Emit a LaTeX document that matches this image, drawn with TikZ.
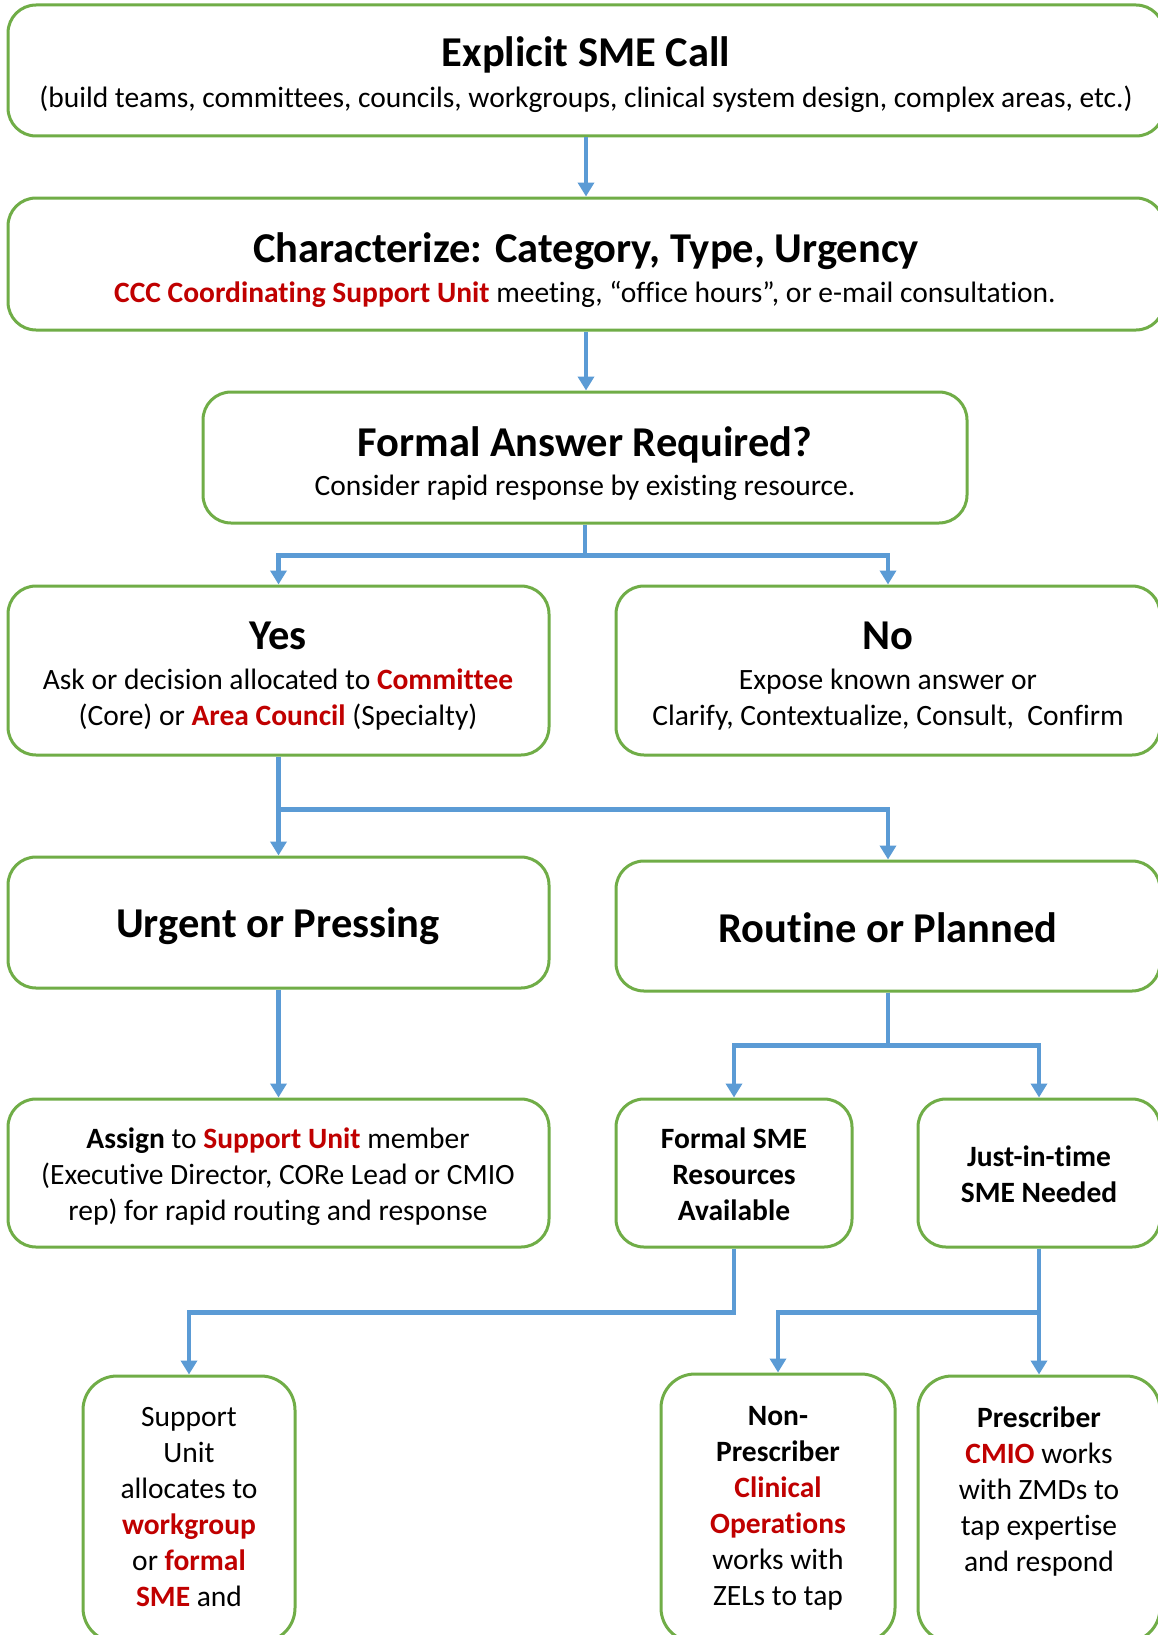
\documentclass[tikz,border=0pt]{standalone}
\usepackage{fontspec}
\setmainfont{Carlito}[Ligatures={TeX,NoCommon}]
\usetikzlibrary{arrows.meta}
\definecolor{boxgreen}{HTML}{70AD47}
\definecolor{arrblue}{HTML}{5B9BD5}
\definecolor{hired}{HTML}{C00000}
\newcommand{\hl}[1]{\textbf{\textcolor{hired}{#1}}}
\newcommand{\ml}[1]{\vtop{\baselineskip=36pt\lineskiplimit=-50pt\halign{\hfil##\hfil\cr#1\crcr}}}
\begin{document}
\begin{tikzpicture}[x=1pt,y=-1pt,
  box/.style={draw=boxgreen, line width=3pt, rounded corners=28pt, fill=white, inner sep=0pt},
  conn/.style={draw=arrblue, line width=4.5pt},
  arr/.style={conn, -{Triangle[width=16pt,length=14pt]}},
  ttl/.style={anchor=base, font=\fontsize{42.5}{50}\selectfont\bfseries, inner sep=0pt},
  txt/.style={anchor=base, font=\fontsize{29.5}{36}\selectfont, inner sep=0pt},
]
\useasboundingbox (0,0) rectangle (1158,1635);
\fill[white] (0,0) rectangle (1158,1635);
\clip (0,0) rectangle (1158,1635);

% boxes
\node[box, minimum width=1156pt, minimum height=131pt] (b1) at (586,70.5) {};
\node[box, minimum width=1156pt, minimum height=132pt] (b2) at (586,264) {};
\node[box, minimum width=764pt, minimum height=131pt] (b3) at (585,457.5) {};
\node[box, minimum width=541pt, minimum height=169pt] (yes) at (278.5,670.5) {};
\node[box, minimum width=544pt, minimum height=169pt] (no) at (888,670.5) {};
\node[box, minimum width=541pt, minimum height=131pt] (urg) at (278.5,922.5) {};
\node[box, minimum width=544pt, minimum height=130pt] (rout) at (888,926) {};
\node[box, minimum width=541pt, minimum height=148pt] (asg) at (278.5,1173) {};
\node[box, minimum width=236pt, minimum height=148pt] (fsme) at (734,1173) {};
\node[box, minimum width=242pt, minimum height=148pt] (jit) at (1039,1173) {};
\node[box, minimum width=212pt, minimum height=266pt, rounded corners=34pt] (sup) at (189,1509) {};
\node[box, minimum width=234pt, minimum height=268pt, rounded corners=34pt] (nonp) at (778,1508) {};
\node[box, minimum width=242pt, minimum height=266pt, rounded corners=34pt] (presc) at (1039,1509) {};

% connectors
\draw[arr] (b1.south) -- (b2.north);
\draw[arr] (b2.south) -- (b2.south |- b3.north);
\draw[arr] (b3.south) -- ++(0,31) -| (yes.north);
\draw[arr] (b3.south) -- ++(0,31) -| (no.north);
\draw[arr] (yes.south) -- (urg.north);
\draw[arr] (yes.south) -- ++(0,53) -| (rout.north);
\draw[arr] (urg.south) -- (asg.north);
\draw[arr] (rout.south) -- ++(0,53) -| (fsme.north);
\draw[arr] (rout.south) -- ++(0,53) -| (jit.north);
\draw[arr] (fsme.south) -- ++(0,64) -| (sup.north);
\draw[arr] (jit.south) -- (presc.north);
\draw[arr] (jit.south) -- ++(0,64) -| (nonp.north);

% texts
\node[ttl] (t1) at (586,66.7) {Explicit SME Call};
\node[txt] (s1) at (586,107.5) {(build teams, committees, councils, workgroups, clinical system design, complex areas, etc.)};
\node[ttl] (t2) at (586,262.5) {Characterize: Category, Type, Urgency};
\node[txt] (s2) at (585,302.5) {\hl{CCC Coordinating Support Unit} meeting, “office hours”, or e-mail consultation.};
\node[ttl] (t3) at (585,456.5) {Formal Answer Required?};
\node[txt] (s3) at (585,495.5) {Consider rapid response by existing resource.};
\node[ttl] (t4) at (278,649.5) {Yes};
\node[txt] (s4) at (278,689) {\ml{Ask or decision allocated to \hl{Committee}\cr (Core) or \hl{Area Council} (Specialty)}};
\node[ttl] (t5) at (888,649.5) {No};
\node[txt] (s5) at (888,689) {\ml{Expose known answer or\cr Clarify, Contextualize, Consult,\ \ Confirm}};
\node[ttl] (t6) at (278,937.5) {Urgent or Pressing};
\node[ttl] (t7) at (888,942) {Routine or Planned};
\node[txt] (s8) at (278,1148) {\ml{\textbf{Assign} to \hl{Support Unit} member\cr (Executive Director, CORe Lead or CMIO\cr rep) for rapid routing and response}};
\node[txt] (s9) at (734,1148) {\bfseries\ml{Formal SME\cr Resources\cr Available}};
\node[txt] (s10) at (1039,1166.5) {\bfseries\ml{Just-in-time\cr SME Needed}};
\node[txt] (s11) at (189,1426.5) {\ml{Support\cr Unit\cr allocates to\cr \hl{workgroup}\cr or \hl{formal}\cr \hl{SME} and}};
\node[txt] (s12) at (778,1425.5) {\ml{\textbf{Non-}\cr \textbf{Prescriber}\cr \hl{Clinical}\cr \hl{Operations}\cr works with\cr ZELs to tap}};
\node[txt] (s13) at (1039,1427.5) {\ml{\textbf{Prescriber}\cr \hl{CMIO} works\cr with ZMDs to\cr tap expertise\cr and respond}};
\end{tikzpicture}
\end{document}
